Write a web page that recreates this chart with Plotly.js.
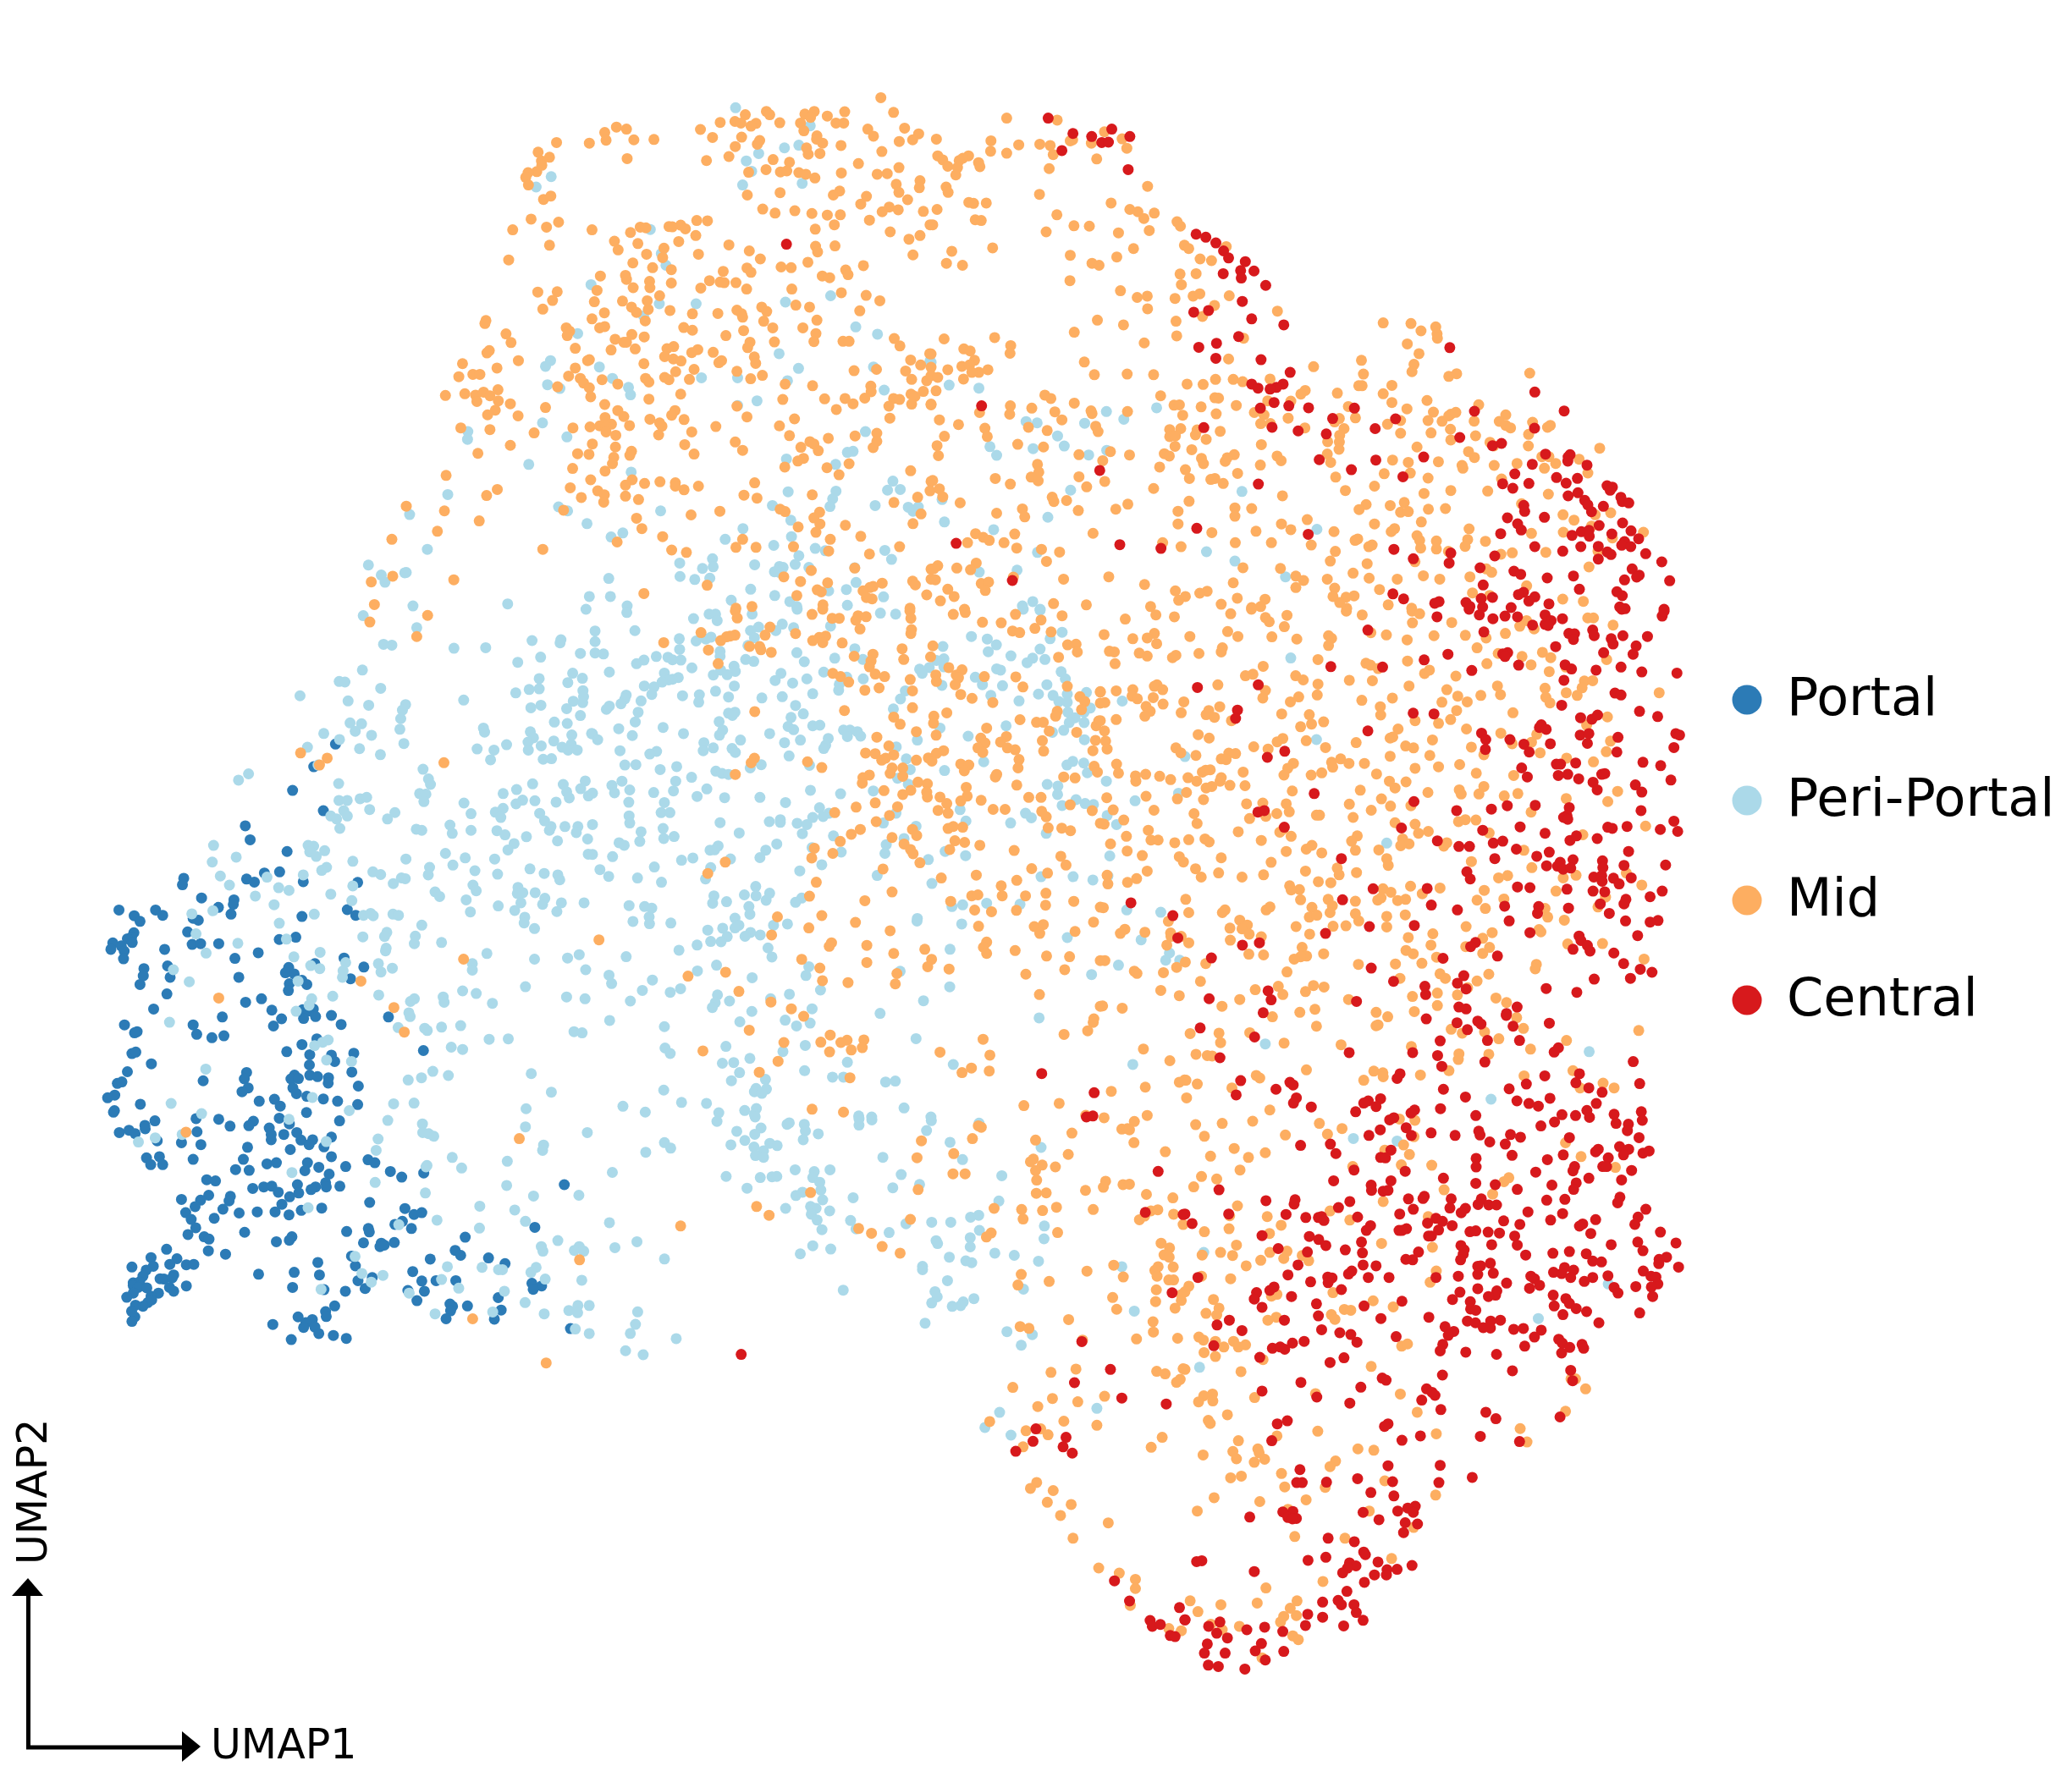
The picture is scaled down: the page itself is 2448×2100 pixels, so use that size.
<!DOCTYPE html>
<html>
<head>
<meta charset="utf-8">
<script src="https://cdn.plot.ly/plotly-3.0.1.min.js"></script>
<style>html,body{margin:0;padding:0;background:#fff}#chart{width:2448px;height:2100px}</style>
</head>
<body>
<div id="chart"></div>
<script>
// Readings are x,y pairs in the coordinates of the crop they were read from.
const portalA=[737,18,496,58,511,95,625,126,555,183,602,180,500,199,524,207,306,197,302,214,675,206,843,208,361,249,461,254,459,266,413,274,452,292,106,281,219,281,241,295,153,296,171,311,335,303,351,308,671,298,811,280,837,295,318,339,152,341,145,353,132,357,87,368,147,367,332,372,358,370,414,370,601,359,652,353,113,376,81,385,122,390,120,410,247,385,536,394,464,409,801,408,711,423,862,432,183,436,181,455,256,429,264,459,476,459,630,433,620,447,647,450,671,467,686,478,632,476,629,494,821,463,171,478,254,503,497,525,546,516,213,543,578,546,673,545,692,548,706,543,676,568,713,563,762,560,608,569,425,564,938,564,123,585,335,585,583,588,792,584,162,603,154,606,346,610,393,619,430,614,717,622,1046,653,624,656,671,637,695,664,762,665,772,682,831,660,146,661,158,657,206,688,694,691,132,709,825,710,500,711,493,728,366,733,648,718,637,728,660,727,695,718,719,722,753,725,752,739,101,740,115,736,845,747,505,752,486,762,643,752,654,767,93,771,71,778,686,774,737,781,781,787,539,787,586,782,604,800,172,795,843,796,89,816,92,812,685,817,601,832,414,835,217,839,344,833,521,840,507,852,449,853,787,839,632,847,186,851,187,860,570,858,137,864,107,870,156,873,347,868,576,875,655,870,615,875,762,882,704,889,668,890,576,889,224,892,299,897,693,902,739,908,359,902,503,909,635,915,191,937,231,934,335,941,490,941,762,934,875,942,896,950,688,950,204,955,241,955,563,953,592,950,944,973,979,988,1047,977,466,968,508,970,680,971,723,962,806,960,755,980,377,995,404,998,657,1008,744,1003,746,1014,788,1012,519,1018,553,1014,578,1012,598,1028,713,1014,699,1021,661,1030,633,1040,1481,1008,450,1039,446,1051,383,1036,358,1049,299,1047,341,1066,880,1055,609,1060,427,1073,588,1080,631,1088,669,1076,732,1070,533,1080,477,1083,989,1071,1017,1087,1041,1082,312,1082,329,1100,400,1097,981,1105,958,1113,1009,1124,343,1122,494,1134,319,1140,809,1132,876,1124,879,1133,369,1146,384,1152,640,1146,632,1155,592,1159,861,1162,916,1163,912,1172,925,1168,956,1161,1175,1147,1390,1121,382,1183,253,1179,435,1192,1144,1182,1161,1195,824,1197,1247,1202,1067,1205,205,1201,285,1204,263,1219,314,1220,337,1219,212,1224,146,1226,720,1214,836,1223,1298,1217,190,1234,180,1250,275,1247,537,1245,647,1240,725,1247,1013,1238,233,1257,245,1258,270,1255,170,1265,150,1268,1041,1263,1085,1262,1146,1262,844,1262,888,1254,314,1276,262,1280,275,1290,150,1275,165,1280,192,1281,642,1280,739,1286,866,1283,805,1290,1381,1269,1411,1276,1385,1285,998,1288,1049,1290,228,1295,150,1295,205,1303,130,1306,195,1320,207,1313,180,1330,157,1327,1277,1307,1026,1315,772,1329,1128,1324,1136,1330,1182,1329,145,1343,1130,1342,1286,1340,744,1344,155,1358,746,1357,659,1358,1116,1363,1265,1364,146,1370,703,1365,581,1378,683,1373,676,1386,711,1385,723,1402,768,1407,808,1415,638,1418,1500,1389];
const portalF=[581,1359,505,1438,431,1521];

const periA=[760,32,778,40,800,18,811,32,788,65,880,15,958,23,935,40,1193,26,1128,56,1135,78,1193,70,1024,67,1041,70,1268,22,1292,12,1285,36,1405,25,1420,45,1440,60,1435,70,1483,60,1523,60,1518,76,1273,71,1298,82,1364,87,1326,105,1307,122,1460,98,1553,93,1555,133,398,110,468,141,394,154,690,110,707,112,695,127,715,139,741,124,828,152,992,146,1114,131,1175,143,1266,146,1137,162,1065,168,747,168,732,176,890,180,914,187,1061,188,1205,177,1275,186,1375,172,1419,184,1461,188,1467,201,419,191,563,194,675,188,447,215,599,222,631,229,828,217,978,196,990,198,953,211,1199,215,1209,230,1338,221,1336,237,1353,235,1391,235,527,244,760,239,825,256,1082,233,1096,245,1178,254,1421,250,1414,266,1347,262,1472,262,1542,262,585,267,1277,270,396,283,331,291,709,292,861,295,883,290,891,296,952,292,969,295,1191,286,1328,282,1458,285,1359,300,1357,315,601,316,1041,321,1389,330,344,344,933,340,926,351,859,352,1021,350,1018,370,623,358,1102,367,473,369,375,395,931,382,929,389,727,393,1242,396,646,405,1389,411,1491,408,1527,399,806,420,698,428,726,436,907,423,1197,423,1197,440,950,435,1547,439,274,439,915,445,798,442,796,459,323,471,659,469,1361,484,1167,495,1209,502,908,506,1107,511,1110,525,1259,528,1488,511,1545,516,766,509,701,516,693,533,1018,516,1006,523,653,549,1001,553,1005,563,262,578,968,592,1050,594,1058,600,1102,591,1161,587,1511,603,1536,606,752,625,735,631,710,640,1249,623,1308,622,1132,644,1167,650,747,678,824,682,374,702,1075,708,1123,719,1040,725,999,731,1379,714,1441,763,703,777,267,793,954,794,1017,792,361,820,817,812,1363,807,631,835,936,838,1043,847,1044,870,1062,873,1078,880,1361,855,301,875,218,884,166,895,746,894,1552,870,906,887,1417,903,1414,917,900,917,1135,936,1305,946,1057,957,1054,961,1164,964,640,976,897,1002,1303,1010,1052,1030,1526,1036,1386,1038,690,1069,1220,1065,1328,1075,1088,1102,1361,1105,970,1114,1219,1123,1461,1156,1410,1172,1415,1184,1527,1172,1512,1182,1541,1184,921,1248,835,1198,1120,1225,1227,1227,1394,1227,1378,1240,1290,1233,1278,1233,856,1243,885,1266,1422,1258,1535,1261,1102,1259,1155,1282,1296,1290,1002,1295,730,1285,1360,1320,1523,1328,1558,1328,1495,1341,1522,1347,1082,1350,1260,1345,1419,1350,1515,1390,1558,1402];
const periB=[248,66,1248,84,945,194,520,285,655,291,58,549,1307,622,1091,702,45,815];
const periC=[984,69,1207,123,1173,181,1130,189,1053,206,1016,228,1032,259,1005,300,1183,295,433,275,388,306,729,433,762,505,776,540,552,598,1268,631,1133,650,756,655,866,655,709,691,1343,724,1408,746,512,744,1114,804,431,825,416,842,577,844,1172,848,1396,844,1565,826,616,878,882,876,990,876,1139,885,422,897,459,908,664,905,670,927,1428,913,990,959,1048,945,407,1011,184,1037,183,1060,480,1053,1372,1037,1318,1099,1335,1096,366,1135,1136,1119,1283,1135,672,1158,1454,1185,1438,1212,1476,1210,1141,1217,1284,1215,1274,1238,1266,1261,1401,1258,124,1225,455,1262,482,1274,1094,1258,1500,1263,1530,1262,1514,1275,10,1285,760,1274,540,1312,1149,1302,647,1340,612,1352,1006,1327,1151,1351,953,1359,1098,1377,1222,1386,1252,1393,63,1389,1430,1392,1450,1419,915,1417,817,1430,1173,1408,885,1446,917,1441,1041,1435,1162,1434,1203,1443,1340,1444,1115,1440,1126,1443,1100,1456,1115,1458,818,1470,862,1479,907,1475,0,1458,605,1476,1344,1488,1029,1508,547,1530,610,1530,1262,1513,1315,1509,1101,1527,1426,1531,20,1558,303,1552,660,1558,971,1541,1146,1545,1167,1560,1318,1556,537,1568];
const periD=[0,830,54,898,143,907,524,977,576,1000,674,966,284,1007,317,1011,459,1012,378,1050,176,1082,196,1108,305,1088,398,1080,525,1093,471,1107,417,1212,929,1216,33,1240,40,1307,349,1293,187,1330,1153,1329,318,1398,823,1396,908,1424,144,1457,257,1451,1059,1471,304,1545,273,1558,326,1568];
const periF=[696,733,741,768,754,793,823,760,678,910,675,1100,594,1140,614,1142,739,1164,457,1190,625,1208,697,1223,826,1221,815,1240,632,1285,672,1288,650,1314,809,1270,806,1307,540,1322,707,1328,595,1343,483,1370,665,1375,820,1357,738,1396,520,1432,277,1463,242,1485,592,1497,593,1556,622,1556,667,1550,690,1545,865,952,749,1010,778,1013,995,1024,1106,1022,1268,997,1369,994,1366,1005,1437,1042,1298,1055,1218,1073,1410,1111,1293,1130,1444,1129,1393,1144,1258,1168,1293,1166,1211,1180,1446,1172,1448,1193,1029,1205,1412,1209,1445,1214,1264,1232,1299,1223,1389,1235,1437,1259,1346,1282,1391,1287,1098,1303,1102,1317,1262,1316,1273,1337,1407,1327,1254,1352,1344,1348,1476,1322,1300,1365,1373,1370,1405,1360,1179,1361,1076,1376,1135,1380,1255,1380,1394,1380,1426,1380,1123,1414,1307,1412,1336,1410,887,1447,906,1481,913,1500,875,1532,897,1534,1270,1498,1214,1518,1167,1532,1377,1500,1389,1526,1398,1547,1454,1488,1438,1515,1465,1540,1235,1555,1278,1557,1352,1562,1030,1565,890,1560,1212,1568];
const periG=[106,10,312,29,360,15,380,15,385,35,493,15,632,0,889,12,936,15,1330,0,1382,3,8,67,131,66,513,55,488,66,586,46,566,66,621,57,735,52,8,100,268,91,320,98,350,92,366,86,500,88,1170,84,1219,92,1413,91,1450,71,480,112,1247,110,269,124,8,135,34,138,394,130,631,134,810,122,1082,115,1222,131,1382,123,394,145,197,146,233,148,247,156,273,157,159,157,136,168,473,155,498,161,654,162,748,151,835,155,1085,153,1062,158,1292,144,1359,151,1397,155,1342,165,307,181,52,194,437,176,441,192,396,188,373,203,416,202,1085,178,1040,180,1010,185,1018,198,1248,184,1260,188,1447,193,222,197,265,211,247,216,235,218,215,225,582,198,564,220,714,194,836,215,785,210,662,215,1460,215,618,228,190,240,160,237,438,237,762,232,1182,210,1204,233,1079,235,1266,236,1403,233,760,250,183,263,380,253,966,252,104,265,278,267,330,264,420,271,523,274,586,270,680,261,1377,262,1230,266,1525,257,1422,266,1466,262,100,277,88,292,150,283,328,287,951,277,1317,283,1440,285,1466,287,627,297,52,299,43,309,929,308,1537,305,141,318,420,321,440,318,432,328,651,323,613,334,1468,318,1518,318,1490,335,132,348,391,347,1472,350,1518,350,680,360,702,358,218,365,81,369,281,384,402,373,392,389,547,384,604,362,621,372,775,373,795,373,818,378,787,393,828,392,1277,360,1073,367,1455,374,1420,380,728,399,123,390,0,385,16,403,457,404,593,412,642,404,720,420,714,430,1003,404,1160,392,1519,403,344,412,85,437,342,437,373,428,431,430,441,442,938,425,198,439,177,447,607,453,969,462,1465,481,1483,470,1517,475,100,481,134,480,260,486,209,495,487,490,521,480,670,482,1208,471,1087,498,981,495,1528,505,381,500,400,507,420,510,306,519,257,531,942,522,91,531,60,544,975,540,1404,541,1437,546,115,558,68,567,0,568,189,566,250,561,353,555,867,561,1436,572,323,578,408,582,517,581,673,559,766,570,112,596,222,597,596,597,1493,588,1450,606,1521,600,1547,603,701,613,212,628,239,628,113,638,115,660,730,630,712,640,680,643,1135,619,937,630,1337,630,1355,644,394,659,546,656,580,650,580,658,632,661,662,665,898,660,1153,654,1291,660,0,665,999,670,218,677,150,687,648,693,453,691,1401,692,220,708,252,702,744,700,82,721,98,729,146,717,569,725,962,708,907,727,388,731,363,744,377,743,535,744,678,736,768,750,903,754,62,764,0,757,310,768,275,775,426,771,517,767,1089,748,1152,761,1037,773,191,796,708,789,23,804,365,798,640,808,50,825,349,833,139,830,213,843,879,822,1385,826,1484,826,1545,836,1048,847,504,856,469,882,505,885,547,877,375,885,371,908,414,903,536,899,646,892,627,905,113,915,161,918,183,923,483,918,1110,918,1143,913,1217,908,1320,911,175,950,486,942,440,954,1003,955,1002,963,125,964,176,971,242,969,559,976,602,972,452,976,440,984,1140,972,402,985,356,991,518,1006,488,998,471,1010,416,1011,397,1027,365,1026,323,1037,1466,1014,267,1053,542,1046,1104,1050,104,1073,554,1074,383,1099,668,1104,950,1118,324,1117,51,1130,659,1131,493,1138,59,1156,185,1145,1541,1128,1103,1166,154,1177,272,1172,240,1183,704,1176,386,1191,608,1189,550,1203,117,1210,379,1215,423,1210,1022,1209,370,1230,678,1234,492,1242,888,1248,53,1270,1379,1262,455,1274,595,1269,672,1278,630,1287,222,1289,999,1326,657,1347,224,1355,412,1350,240,1372,588,1366,486,1387,401,1402,436,1400,787,1399,1114,1406,655,1425,454,1431,534,1452,741,1445,775,1445,429,1456,905,1460,935,1457,505,1480,537,1482,220,1485,500,1490,523,1495,275,1523,352,1526,94,1535,506,1542,163,1553,470,1548,962,1540,390,1555,500,1560,822,1565,862,1568,1045,1568];
const periH=[504,129,58,243,572,345,224,390,16,455,207,487,92,507,18,546,43,570,25,653,20,706,758,619,70,796,160,802,108,875,183,910,173,929,210,929,48,942,86,1205];
const periJ=[293,12,397,0,680,5,715,8,877,10,1007,17,484,20,490,16,531,20,680,22,347,39,413,30,534,38,396,47,569,46,864,37,528,62,150,70,167,85,99,96,331,76,369,64,437,72,457,78,394,82,420,92,398,105,420,110,928,69,1176,83,745,110,962,116,8,151,506,144,558,149,601,144,318,162,411,165,443,163,456,162,554,165,573,178,795,157,1069,160,375,194,576,199,526,205,508,214,845,184,772,193,664,220,581,226,1061,229,480,249,548,244,563,249,550,265,600,256,566,281,657,282,1006,268,984,273,878,287,930,287,808,291,0,288,672,305,579,307,762,315,1185,297,1008,309,983,329,890,337,894,345,983,354,75,340,15,356,1184,332,554,351,603,360,520,373,1050,371,1103,377,926,382,150,387,971,392,987,397,1169,393,853,407,853,416,921,446,637,472,887,476,893,490,878,507,1128,469,993,495,964,504,957,514,934,516,77,531,71,565,57,590,860,562,1083,585,1152,593,182,604,1122,622,44,637,92,648,1328,794,1063,805,1023,846,1094,867,1396,408,1430,529];

const midA=[414,514,853,469,955,539,987,604,1170,411,313,869,1342,886,1528,1207,1198,1363,1425,1480];
const midB=[16,42,105,41,110,63,200,40,406,25,306,64,590,24,596,22,270,3,626,3,1024,5,1045,30,822,32,856,41,925,38,969,54,1178,58,1401,35,34,90,69,93,84,94,482,68,699,72,1067,78,846,89,844,102,938,90,375,126,815,128,583,129,611,133,612,142,727,138,552,150,220,139,231,145,3,150,38,159,145,168,1047,140,1198,128,1291,157,1325,168,1220,168,5,191,262,219,33,253,115,250,209,245,415,250,662,240,710,243,485,262,60,280,310,277,440,275,707,281,1175,295,675,300,152,308,248,318,79,326,196,329,693,322,617,312,1223,327,518,350,668,346,170,358,762,347,1329,352,51,373,98,379,985,385,1000,376,27,397,800,404,950,414,612,431,162,441,448,453,138,464,254,466,751,466,509,474,297,486,136,494,60,501,261,505,607,528,159,532,764,537,110,549,262,549,147,556,315,546,53,555,234,567,305,563,362,556,382,568,189,580,776,592,51,604,141,610,757,618,12,627,0,640,457,642,267,650,284,646,88,658,581,661,105,678,65,690,98,694,643,675,492,681,512,683,452,693,282,699,256,706,463,704,43,745,57,752,94,755,150,755,120,768,165,768,187,763,669,766,687,761,59,781,94,790,241,797,575,813,173,825,0,820,1206,842,1192,842,1237,865,85,877,58,881,42,895,86,893,215,885,403,876,665,877,131,925,717,919,1175,917,72,938,78,945,410,963,284,974,776,969,1035,957,165,985,534,1004,583,1007,1056,988,148,1010,225,1004,229,1013,56,1018,159,1027,246,1028,214,1035,465,1032,448,1045,298,1061,141,1071,174,1067,308,1092,433,1093,617,1078,774,1111,90,1117,231,1126,374,1122,38,1148,318,1144,569,1148,706,1186,339,1207,494,1211,638,1258,426,1311,250,1326,16,1356,111,1365,223,1361,346,1356,325,1373,40,1381,305,1392,344,1390,295,1405,168,1415,80,1410,115,1423,333,1437,350,1446,238,1488];
const midC=[1418,39,1076,80,1086,90,1013,90,1191,88,1219,80,1208,98,1258,94,1310,81,1456,83,938,113,982,110,1000,115,1045,116,1030,124,1116,114,1178,115,1284,115,1307,115,1379,133,1489,130,1531,147,879,134,915,158,1002,157,1188,138,1227,153,1396,154,1473,170,1513,165,1056,167,1049,178,1226,163,1244,175,983,185,1299,182,1196,189,1201,208,1236,206,1421,200,964,215,897,227,1096,224,1145,232,1351,236,1472,248,1023,262,1075,254,1118,261,1137,258,1173,263,1194,268,1221,279,1300,264,1407,268,1437,266,1535,287,1533,308,1464,298,1019,330,1117,323,1295,318,1276,330,1472,322,1375,334,1498,344,1358,357,1065,372,1102,384,1161,377,1212,385,1258,390,1297,389,1443,366,1422,380,1470,374,1545,379,1384,405,1279,419,1565,419,1222,432,1446,440,1535,451,1502,462,1223,483,1281,482,1229,500,1514,509,1200,531,1366,541,1120,545,1150,547,1313,554,1320,568,1243,572,1265,577,1152,611,1300,622,1374,630,1415,646,1164,659,1205,665,1355,676,1227,704,1185,727,1224,744,1218,768,1305,767,1323,767,1458,759,1475,781,1564,804,1507,823,1537,838,1568,845,1338,855,1405,851,1492,856,1510,881,1555,885,1214,900,1388,901,1389,918,1508,925,1545,917,1520,932,1370,937,1311,938,1250,939,1456,938,1474,941,1335,954,1510,955,1442,961,1568,957,1285,971,1445,997,1160,999,1125,941,1132,895,1115,1020,1145,1049,1206,1067,1218,1074,1179,1084,1231,1094,1261,1057,1341,1050,1406,1042,1406,1066,1395,1085,1323,1133,1187,1117,1170,1125,1131,1143,1257,1145,1293,1166,1507,1154,1568,1186,1213,1226,1528,1233,1565,1214,1457,1249,1538,1283,1514,1312,1235,1278,1218,1295,1236,1313,1312,1317,1224,1338,1171,1322,1267,1359,1358,1350,1157,1381,1262,1394,1474,1381,1384,1403,1210,1452,1568,1448,1340,1445,1128,1471,1178,1485,1259,1489,1422,1490,1513,1484,1521,1495,1395,1500,1385,1503,1365,1513,1228,1510,1240,1516,1568,1478,1375,1533,1392,1537,1167,1527,1555,1525,1245,1555,1033,1560,985,1565,1505,1565,449,173,394,202,428,217,404,228,405,241,390,260,364,263,357,277,365,300,410,343,432,333,547,175,593,143,628,127,658,133,597,166,680,165,740,164,660,221,373,402,419,426,455,411,318,434,555,434,428,480,306,524,622,468,633,494,670,442,692,475,699,426,716,428,785,424,795,425,820,420,834,431,868,406,900,407,865,451,814,469,770,489,718,507,766,517,873,507,964,479,1025,497,1058,521,677,533,736,547,792,553,1018,548,1030,561,947,558,655,570,658,582,580,572,906,586,938,590,950,592,985,592,727,588,728,607,792,593,678,607,880,608,1017,611,570,615,393,620,451,619,437,645,757,631,646,647,720,646,562,649,408,671,673,665,688,681,723,672,788,675,855,685,931,684,988,674,1002,685,1005,695,1062,665,1077,678,592,682,555,700,714,706,1068,707,238,705,235,714,478,727,578,727,593,723,829,726,855,734,1095,727,1008,735,298,745,488,737,481,750,674,747,711,754,955,750,624,761,650,770,658,770,313,771,1100,769,1027,770,1020,786,684,790,505,788,612,793,248,795,241,802,779,789,799,783,871,792,853,801,917,800,772,813,798,820,821,826,168,834,335,825,547,822,542,825,710,834,1040,814,1044,833,942,825,934,831,271,847,505,847,199,866,220,866,157,873,805,858,860,851,988,857,485,871,520,878,715,878,772,875,785,882,725,889,846,881,1029,879,1064,869,585,882,530,892,632,895,547,906,452,903,117,929,175,924,207,928,231,919,250,930,274,912,820,925,551,933,725,940,211,947,275,945,311,954,593,956,988,961,416,965,266,973,632,974,803,974,243,987,334,990,793,988,650,992,1018,993,594,995,728,1000,830,1001,667,1019,764,1021,757,1011,163,1026,250,1031,498,1026,549,1023,578,1020,613,1015,597,1022,925,1022,853,1038,382,1041,597,1038,626,1048,754,1047,983,1068,311,1078,556,1074,832,1076,1005,1093,625,1083,214,1102,512,1103,546,1105,673,1096,668,1108,860,1104,620,1114,616,1133,497,1147,594,1155,119,1168,551,1181,675,1181,655,1197,712,1192,758,1187,804,1190,804,1200,830,1211,873,1200,1041,1190,272,1210,490,1205,240,1228,572,1214,592,1226,523,1234,655,1230,694,1240,590,1248,1009,1227,1048,1236,0,1260,114,1274,470,1272,1117,1269,1132,1276,851,1286,937,1275,218,1304,688,1296,704,1327,93,1335,766,1351,630,1367,1005,1359,985,1383,1045,1383,793,1391,837,1398,408,1389,142,1480,899,1496,710,1521];
const midD=[226,100,377,106,16,163,518,141,179,168,262,180,325,178,356,182,423,165,416,168,479,175,571,162,585,190,178,199,226,205,365,209,495,222,20,213,35,225,112,213,95,220,84,227,50,244,142,233,146,245,79,248,74,270,353,251,45,306,51,322,647,304,324,328,113,352,127,355,165,354,538,354,18,373,594,373,618,380,667,384,376,389,636,400,132,404,150,406,5,419,427,422,473,423,735,410,745,423,344,440,560,443,652,436,757,480,770,490,882,484,184,488,62,498,605,490,555,515,416,510,481,534,502,540,46,534,94,540,804,521,838,526,744,566,792,565,415,586,748,598,566,616,616,636,646,632,729,639,783,632,803,625,891,631,847,660,647,670,1035,677,811,693,497,704,732,707,575,718,1351,712,1434,714,1464,736,1508,724,1512,745,1513,758,428,740,734,751,39,760,190,756,934,758,238,780,637,772,1423,775,98,790,117,796,236,803,1458,804,0,805,889,820,1286,824,458,829,130,824,1443,836,50,852,92,842,115,838,170,852,143,860,122,860,1143,843,1437,858,1292,865,488,867,586,865,665,867,1547,872,97,880,0,870,20,875,850,881,903,881,931,888,1013,880,765,895,813,896,1118,914,1278,900,1288,900,1377,899,1105,925,15,915,340,928,358,938,1214,922,1351,924,686,930,848,936,859,937,0,955,428,952,1006,945,1075,946,1377,950,1482,944,726,958,742,957,301,967,237,960,807,963,912,959,1422,969,145,980,235,985,370,978,478,975,481,983,587,977,852,984,966,980,995,987,1247,962,752,988,1501,979,25,1002,391,1002,1067,997,1220,998,1268,996,1206,1008,1485,1004,1527,1006,1553,985,1547,990,82,1016,161,1027,291,1024,492,1021,1014,1013,985,1013,1364,1015,1403,1004,1117,1026,1234,1028,713,1031,746,1028,347,1034,795,1032,864,1036,499,1037,1552,1030,40,1051,168,1052,790,1047,1403,1042,1494,1041,713,1052,730,1050,1221,1048,822,1060,1553,1062,1220,1068,259,1075,18,1079,336,1083,729,1081,987,1076,1185,1067,1452,1083,779,1091,536,1097,1219,1090,697,1103,593,1107,442,1106,22,1109,712,1110,906,1106,1034,1110,1184,1104,885,1115,808,1117,879,1126,513,1124,1046,1124,1194,1129,1379,1122,1426,1129,1516,1127,814,1133,984,1137,318,1135,683,1143,760,1151,1432,1161,1354,1163,322,1158,916,1162,5,1183,772,1177,442,1172,299,1173,192,1177,848,1177,836,1180,1485,1176,873,1192,320,1184,237,1194,519,1186,1325,1200,465,1202,25,1208,665,1207,1209,1173,1238,1213,1553,1213,1473,1222,362,1233,1050,1229,367,1246,405,1243,87,1250,35,1232,771,1245,1300,1255,1414,1249,588,1254,1372,1258,908,1265,273,1268,958,1267,552,1269,440,1273,738,1275,1279,1270,1486,1269,1537,1267,1403,1278,1426,1276,196,1281,280,1292,908,1290,1124,1300,1047,1313,738,1313,1465,1307,1325,1313,1075,1330,1385,1327,971,1335,1375,1336,1204,1336,133,1342,250,1343,839,1339,484,1341,156,1353,174,1362,1452,1348,1275,1358,1267,1362,109,1369,218,1369,909,1369,1017,1369,692,1369,1510,1364,1460,1362,256,1385,1136,1376,1318,1376,1308,1381,330,1389,747,1381,1463,1385,1510,1388,384,1397,1208,1395,1546,1395,345,1425,1193,1424,1446,1426,20,1438,135,1430,1303,1432,932,1444,77,1445,118,1450,8,1447,1044,1446,1261,1460,396,1478,531,1471,1471,1468,246,1472,13,1480,1090,1469,1113,1482,1184,1478,1309,1475,1393,1478,1520,1478,638,1494,903,1489,150,1491,172,1487,1090,1503,1206,1505,50,1508,1340,1509,162,1512,730,1513,825,1514,803,1520,69,1530,760,1530,915,1535,998,1538,1264,1528,1240,1532,1201,1530,740,1541,28,1543,366,1551,464,1555,867,1553,1221,1548,656,1560,958,1563,985,1560,1242,1565,1366,1555,1436,1565,100,1568];
const midE=[3,185,262,183,81,295,0,322,177,331,65,353,154,354,272,357,177,368,194,377,325,375,335,368,70,405,258,400,121,428,135,441,257,441,510,449,45,461,66,482,305,479,330,479,437,488,354,503,22,510,25,520,136,510,217,503,314,520,468,537,162,558,113,601,328,612,233,646,380,685,494,685,549,678,419,704,47,735,481,725,268,751,381,747,665,747,42,773,555,767,105,779,33,797,160,825,200,820,319,818,504,814,472,870,108,877,127,889,50,905,251,937,59,962,120,971,379,984,452,992];
const midF=[778,643,781,772,706,792,717,871,701,932,459,1390,552,1408,525,1432,903,909,865,983,960,1424];
const midG=[441,5,447,27,678,16,711,0,980,5,983,28,1114,16,1151,10,1306,16,1450,20,1385,33,820,20,845,23,813,34,740,28,762,28,826,61,1204,40,1262,42,548,55,985,63,983,75,1366,59,1297,67,1319,72,1416,70,335,72,627,75,533,80,440,80,425,83,414,85,396,97,720,83,700,87,680,97,711,103,220,103,771,104,1467,110,1493,108,1051,113,516,115,520,125,485,115,358,126,956,122,552,133,1497,132,866,139,808,145,1044,147,1439,148,961,155,860,160,855,178,388,168,1100,180,1141,187,742,198,1060,203,1123,203,873,200,902,208,766,208,1130,212,1210,208,1307,209,981,217,791,225,1062,223,1120,233,1329,240,885,243,841,250,988,252,1466,238,1568,256,1137,263,1172,275,1505,270,1520,285,1236,288,988,304,501,316,778,313,1094,320,1510,310,1568,290,1435,315,1430,330,1054,330,930,333,1053,352,950,355,1320,341,1371,349,1392,349,1410,376,1217,367,1000,378,1061,389,878,395,1495,380,1563,345,1555,360,1278,393,1199,398,1389,406,1553,405,1260,410,1212,413,915,422,1190,428,1281,428,1305,434,1393,438,1205,442,1545,437,843,444,873,446,930,450,1084,437,1062,445,905,460,893,466,1037,459,1000,466,1048,469,1317,464,664,471,500,460,490,474,708,489,1137,478,1162,481,1148,499,1314,490,925,490,958,490,1549,485,1559,503,441,510,919,507,855,512,958,516,835,520,1248,510,1244,518,1455,518,1490,521,833,537,1005,534,1034,539,1310,543,1154,550,900,560,958,572,983,559,1032,565,1034,580,1073,580,1157,577,1137,592,1347,581,1385,581,1200,590,1094,600,873,598,942,610,814,611,1475,604,1237,618,1274,618,1067,621,1098,630,1387,624,1401,641,1543,622,748,628,917,637,876,656,1568,661,1143,673,1098,677,1114,671,1407,675,1449,676,1476,684,988,680,827,680,799,695,1001,699,925,705,765,717,1119,715,1149,720,1196,729,962,725,982,742,685,738,1103,742,742,754,990,755,1302,745,677,768,1446,763,410,781,1011,783,1462,790,897,802,1356,801,1405,815,356,816,1185,821,1077,830,691,843,1310,837,925,873,1262,854,1171,885,1190,882,670,886,1265,885,1337,885,1400,877,1106,902,841,900,1486,902,1399,914,1309,930,1180,929,1232,934,1568,920,708,946,571,950,812,967,1547,966,668,984,919,993,1192,979,1364,980,1392,974,1381,1001,1490,995,553,1006,20,1021,738,1030,731,1041,847,1038,1217,1028,1026,1050,1207,1044,1305,1054,930,1063,1217,1063,1402,1071,1473,1073,646,1081,1047,1081,847,1091,1568,1085,702,1108,1035,1104,1101,1111,1458,1113,411,1121,295,1133,940,1125,1338,1127,710,1147,789,1153,935,1157,452,1180,1380,1190,551,1213,614,1234,652,1257,1568,1226,1548,1265,1546,1276,484,1300,1529,1302,1456,1313,734,1315,838,1330,786,1331,767,1338,705,1337,591,1338,1206,1328,833,1354,799,1361,341,1364,732,1367,1073,1368,1227,1377,573,1396,1170,1417,1225,1426,515,1430,1141,1431,795,1447,1332,1533,1441,1526,678,1544,775,1553,1523,1563];
const midH=[114,1164,184,1195,119,1265,29,1276,209,1252,223,1246,124,1340,10,1346,90,1356,57,1376,72,1375,77,1378,89,1412,172,1436,14,1514,60,1523,77,1522,122,1549,192,1558,8,1530,66,26,147,15,196,20,345,12,400,0,437,22,447,33,494,16,651,5,693,15,825,5,845,12,930,35,1128,30,1148,52,1110,45,1290,23,1305,23,1357,42,487,46,826,36,10,67,143,64,237,72,337,59,364,72,454,73,520,79,604,70,612,77,716,62,757,68,883,70,966,69,1072,64,1021,76,86,78,124,76,149,91,812,81,604,96,997,102,323,102,320,113,24,111,37,113,103,116,124,124,191,128,200,122,261,117,1053,117,1116,125,1170,114,1192,128,39,144,431,151,576,133,703,143,715,148,735,157,813,137,1023,144,1140,147,1232,153,1188,165,858,170,871,161,384,176,404,172,517,176,537,187,659,188,720,189,941,177,1340,133,1281,190,1303,189,150,200,143,204,311,200,576,198,817,203,1051,203,1275,208,1177,209,165,213,86,213,42,216,0,218,437,215,574,227,917,213,1059,226,1233,221,1262,228,1479,221,84,230,140,234,98,237,12,247,221,245,430,235,525,232,503,245,692,241,773,235,946,230,904,246,971,245,1007,228,1179,233,1190,248,166,251,121,257,316,258,287,268,741,258,132,270,214,274,280,279,302,286,480,277,553,279,742,280,943,268,1092,274,118,283,42,292,347,295,833,295,927,292,895,302,1342,285,591,298,559,304,530,311,1287,307,0,295,788,317,969,317,11,322,259,332,288,341,1060,328,1155,331,767,341,545,348,677,353,879,346,774,338,483,342,468,351,14,349,1090,356,1141,352,1350,349,18,370,200,367,406,364,444,370,596,366,808,362,829,367,982,365,1339,377,213,380,340,381,358,382,253,387,320,396,333,398,767,389,872,387,1164,380,1015,385,636,396,43,410,511,408,612,405,658,408,699,408,615,418,1305,404,1234,394,951,411,833,421,496,421,895,417,48,434,120,437,93,441,94,455,157,442,186,451,270,431,279,426,291,425,378,431,586,433,558,439,486,439,731,436,995,434,1094,440,232,446,320,446,255,455,317,455,295,469,280,473,343,466,383,467,765,455,809,457,1015,469,1069,494,1105,488,950,478,955,489,780,473,688,479,508,481,867,485,1002,489,228,485,17,499,121,495,204,502,273,504,744,502,1233,501,1343,509,1369,482,387,515,492,515,430,513,659,516,768,521,822,520,142,532,717,532,34,531,500,536,467,541,248,541,1140,537,580,545,572,545,669,551,438,548,395,554,62,558,256,567,948,562,966,557,994,558,10,569,780,565,833,569,1443,574,127,585,365,589,475,590,484,582,1029,592,868,588,842,593,69,601,505,601,680,600,665,614,1277,597,134,611,153,611,234,610,277,608,288,616,426,612,197,618,27,621,917,618,800,608,817,621,909,627,795,626,560,625,545,635,737,637,675,638,1121,638,71,640,492,641,586,645,111,652,320,658,209,655,220,669,758,660,452,670,762,678,982,668,124,693,252,687,627,685,632,703,543,693,678,697,1142,684,18,704,1259,704,313,698,432,703,267,709,375,709,96,713,72,723,20,727,1054,711,1078,705,1225,711,1392,698,1433,730,577,721,610,724,501,732,527,742,505,743,821,733,899,738,748,740,769,749,852,753,1016,744,1206,746,226,768,530,769,603,768,734,770,675,773,743,764,787,771,808,768,997,770,1068,767,1337,762,8,790,234,803,330,796,323,803,439,796,449,788,560,789,614,785,608,803,1019,792,1317,788,1177,792,553,815,675,806,573,810,758,813,807,809,369,823,180,826,389,836,343,844,375,846,684,825,1184,815,1228,823,518,840,616,839,650,838,758,841,968,840,65,847,53,858,118,855,186,857,187,866,394,860,426,867,554,860,1161,848,1166,854,214,866,880,859,1037,856,234,883,344,876,815,869,1012,871,176,889,534,895,875,889,967,893,1030,895,1237,886,1329,885,393,913,432,915,591,912,546,918,530,920,513,926,809,903,828,912,1012,911,890,921,12,930,225,934,279,938,851,937,1439,926,683,940,781,939,202,948,1154,940,1151,952,90,958,97,964,167,962,494,960,899,965,1028,966,913,977,793,977,265,985,997,984,471,998,564,996,592,1000,410,1007,543,1012,160,1009,892,1016,483,1020,945,1021,972,1002,209,1023,826,1025,369,1033,657,1033,1047,1029,322,1051,1075,1041,58,1056,6,1050,892,1049,568,1059,528,1067,730,1067,831,1065];
const midJ=[1005,24,1013,28,850,65,989,59,1161,63,1260,44,1250,102,838,111,938,100,1155,115,1147,122,1179,131,1215,136,1161,146,936,155,969,155,1164,172,548,206,841,198,1297,200,1163,208,1190,207,401,244,435,268,194,297,1048,249,1123,252,1180,255,1218,246,1318,252,1127,278,820,279,679,304,714,317,1221,315,1040,316,1027,327,743,353,792,371,1122,429,1113,458,1198,448,1301,420,1374,404,1400,436,1371,492,1382,524,1251,552,1119,571,1143,576,1289,608,1436,605,1271,687,1203,696,1099,737,1207,767,1276,776,1349,761,1167,789,1238,829,1036,830,1328,840,1135,855,1175,850,1195,866,1127,899,1164,996,1147,1012,1209,1018,1193,1050,1258,1056,1229,1086,1359,1106,1263,1148,1333,1229,1389,1243,1433,1260,1433,1285,1419,1331,1524,1394,1558,1400,1506,873,1476,900,1491,693,1514,700,1563,686,1555,715,1545,723,1548,603,1481,558,1482,586,1541,521,1488,503,1558,500,1490,471,1558,484,1503,344,1526,357,1511,376,1525,382,1495,408,1536,409,1486,418,1492,434,1524,444,1537,444,1444,280,1458,270,1475,256,1494,253,1537,265,1563,293];

const centralB=[47,29,215,50,745,8,840,17,872,33,904,13,914,20,992,0,1013,25,1125,18,788,59,934,58,1033,58,1153,75,1140,85,108,98,507,86,703,86,780,93,793,118,926,108,1384,107,172,151,664,135,655,146,1218,135,1111,140,1207,156,1404,158,1054,159,324,155,334,161,281,171,158,184,798,171,1001,170,1247,168,1288,178,866,189,1127,192,1025,198,344,191,335,203,604,193,566,198,552,203,590,211,1062,204,1091,210,1270,204,390,212,789,216,527,223,709,219,698,226,1241,220,1409,223,898,232,1164,230,1206,232,1249,236,1325,229,1412,243,632,242,645,237,1141,247,1331,250,1099,256,1369,252,1366,267,683,260,603,265,568,278,760,272,907,268,911,277,834,278,1005,276,1036,282,1187,283,1402,283,699,278,941,293,989,298,449,298,357,301,1342,304,466,320,1276,310,1268,316,1010,324,636,312,1168,323,1370,310,1354,323,1414,319,1433,314,1307,330,604,329,619,330,899,331,1119,334,899,351,1203,350,1198,360,1290,350,1302,350,680,361,522,358,1083,363,1379,359,459,383,798,377,636,383,575,393,576,405,898,389,1247,377,1348,381,1133,393,958,392,1208,388,1200,403,1026,403,105,404,612,407,627,405,822,425,739,419,735,424,690,425,915,425,340,427,337,437,250,429,509,431,1343,421,1336,434,1173,426,1117,428,818,446,866,447,853,457,905,438,938,439,962,439,474,445,705,449,1423,449,1059,455,135,460,0,460,312,461,373,468,412,468,422,466,429,475,533,467,663,460,1166,459,1399,467,1129,474,1268,473,775,470,795,477,749,481,984,476,22,482,1228,483,1218,488,1034,484,1389,484,573,487,560,498,825,487,661,498,684,494,670,498,783,497,880,501,898,499,936,502,971,504,1253,505,1468,502,238,510,384,512,413,519,545,525,761,511,752,511,1018,511,1026,532,1516,527,1316,531,1398,525,435,533,947,531,852,533,862,543,288,540,378,548,495,543,548,550,1414,545,1136,551,1187,547,1239,552,721,548,859,553,1052,555,1487,560,703,566,682,565,851,566,1464,565,1259,569,1286,571,1463,575,1524,583,349,578,550,578,590,580,943,574,904,581,913,580,515,592,505,599,1172,584,1200,590,1415,592,1138,595,1163,598,1306,603,1191,607,1439,604,1454,606,318,601,40,607,441,606,454,608,566,607,630,607,904,600,952,597,844,604,1068,604,1079,610,775,607,1259,607,1233,616,388,617,442,619,993,620,1460,622,1095,625,1064,632,1440,629,1392,628,483,635,904,633,1325,630,1337,643,221,642,262,637,275,629,214,657,329,651,849,641,963,638,959,648,937,651,1444,651,1137,648,826,658,670,662,1176,656,406,668,881,663,1187,667,238,676,553,673,1140,673,1208,679,882,680,898,683,1240,686,1404,689,412,696,1167,693,605,702,753,699,872,708,307,706,137,706,897,712,944,708,974,706,1278,712,803,721,921,723,943,724,1015,727,1045,725,99,717,176,730,422,728,1100,729,830,732,813,741,478,735,512,739,368,755,652,744,1079,745,531,757,1154,750,332,759,1165,759,796,762,89,765,270,771,294,768,308,773,1188,769,1226,762,1231,771,1049,766,788,777,867,780,962,785,1163,782,231,792,491,793,448,804,795,833,1011,823,1191,822,358,850,609,840,621,845,1197,846,543,861,238,870,746,865,763,873,772,880,407,884,731,891,509,898,790,913,929,919,960,934,1158,930,316,939,285,946,627,946,616,952,727,974,912,975,670,984,1033,987,268,985,627,1043,788,1042,355,1052,887,1070,784,1082,641,1080,345,1082,362,1082,533,1073,437,1081,574,1105,645,1113,711,1137,688,1141,705,1151,657,1148,333,1149,302,1150,550,1151,599,1168,200,1162,318,1163,344,1165,332,1166,680,1175,718,1178,675,1198,442,1211,523,1219,552,1243,557,1249,435,1255,380,1262,36,1265,52,1263,596,1266,508,1268,528,1275,701,1274,502,1280,487,1291,624,1284,655,1283,214,1288,585,1296,622,1296,554,1313,500,1334,425,1359,473,1355,483,1365,522,1365,529,1383,379,1387,425,1394,550,1401,372,1413,490,1414,246,1417,0,1400,73,1415,108,1405,191,1423,98,1431,302,1427,131,1442,236,1455,69,1456,217,1472,305,1473,60,1477,124,1477,248,1493,72,1505,103,1508,185,1514];
const centralC=[1136,477];
const centralD=[350,100,424,146,480,155,540,133,594,155,510,173,530,172,391,197,589,254,792,447,821,456,851,473,874,497,889,518,939,529,925,556,965,557,873,565,927,578,1000,600,930,648,785,680,829,675,958,700,1054,718,919,753,853,773,800,785,851,818,986,822,1550,786,1073,860,958,895,977,907,1052,895,1032,905,1013,910,1025,950,1069,960,1128,966,984,967,1265,967,151,960,1200,998,1388,999,815,1025,1019,1024,1097,1035,1327,1028,1181,1044,1160,1121,1329,1122,1472,1113,504,1153,1256,1151,1410,1172,978,1194,794,1326,1127,1344,75,1371,564,1375,687,1386,1383,1389,1441,1417,1548,1430,1553,1400,243,1482,1380,1522,1412,1537,1518,1545,1505,1550];
const centralE=[280,250,384,317,66,318,279,378,14,411,162,432,130,440,318,470,405,472,398,480,397,495,271,506,465,509,209,540,357,553,431,556,391,573,166,575,259,574,202,591,536,582,555,587,547,598,433,607,398,618,585,623,590,638,613,643,457,634,468,650,241,652,244,673,523,655,481,674,183,696,314,694,219,717,232,739,591,714,508,723,621,742,159,752,445,745,472,740,412,758,473,761,553,753,648,770,598,780,588,793,620,798,280,798,443,798,505,797,379,814,537,817,550,826,138,831,673,823,505,842,730,852,86,873,206,885,230,896,625,877,650,899,641,906,324,909,417,902,598,916,758,919,97,934,438,949,571,958,590,972,240,960,222,968,280,976,130,978,259,991,90,982,36,996,50,1010,330,1001,196,1014,95,1012,581,1012,600,1018,738,1020];
const centralG=[1387,1434,1549,1493,1525,1568,1545,1565];
const centralH=[153,1488,891,20,976,0,1003,15,1039,25,1071,18,1104,20,1144,42,1177,15,1177,40,1193,30,1185,43,1223,25,1380,0,1487,18,1492,5,708,55,1015,60,1240,64,1255,65,1303,55,1307,70,1352,78,1383,70,1448,72,1252,80,1357,92,1418,97,1205,99,1078,115,1065,118,1071,125,1332,115,1410,119,920,119,857,134,610,152,747,153,1107,148,1230,147,1247,158,1378,153,983,162,1312,161,1433,166,1526,169,1227,188,257,207,418,200,1362,222,1378,227,1221,254,363,267,358,289,828,275,883,277,1427,270,1271,287,1475,284,1301,291,1316,280,708,322,1167,306,1162,313,1180,318,1009,328,1020,345,1019,371,1523,329,1533,333,1270,333,1293,329,1084,345,1370,339,1121,357,1191,356,1289,355,1135,378,1518,366,1367,378,488,376,442,392,1436,405,1258,407,1207,410,1218,410,1115,420,1483,414,1327,437,1335,435,1130,444,1212,440,1237,437,1266,449,1510,452,1304,458,1416,465,1315,478,1433,484,566,488,830,509,1151,519,1077,520,1035,529,1241,525,943,533,1431,533,417,537,434,533,1235,546,1226,551,1237,556,1518,561,487,577,797,579,1111,576,1343,577,1355,580,1394,575,1012,585,1177,593,1482,583,1528,588,1315,607,892,613,1065,614,1040,619,1243,612,1260,600,949,628,977,628,1101,635,1398,641,1188,643,638,660,1044,660,1155,654,1329,666,1217,670,1251,663,1181,679,1210,680,1225,688,1245,685,1330,684,1386,678,1496,677,970,695,979,714,1306,709,1327,705,1358,712,1405,711,1328,720,1373,727,722,740,865,739,1104,735,1137,737,1235,741,1304,746,1335,748,1487,746,1455,761,641,769,81,777,876,783,1391,768,1386,780,1323,780,1160,787,1070,786,1239,791,945,796,1157,805,192,811,1347,805,1082,825,1390,825,1476,824,1455,828,831,837,712,840,596,858,1137,856,1422,864,1267,865,1272,877,205,870,376,889,421,883,993,882,980,893,1289,890,1296,905,1251,900,1359,910,294,923,907,924,1051,918,1385,938,717,950,1429,953,1460,961,962,970,1307,979,1403,977,776,985,945,990,968,1005,1180,1004,859,998,861,1020,444,1010,452,1034,1261,1014,288,1031,678,1038,949,1053,968,1058,1103,1053,431,1068,1075,1070];
const centralJ=[359,647,1287,612,1267,724,1365,688,1396,766,1517,782,1162,850,1154,884,1107,911,1244,873,1236,899,1261,916,1376,1264,1417,1319,1553,1337,1568,1370,1473,1372,1479,1388,1501,1383,1528,1413,1541,1416,1533,479,1460,260,1563,266];

// Each crop: left, top, horizontal scale, vertical scale.
const crops={A:[100,950,1568/600,1568/700],B:[1400,1200,1568/600,1568/800],C:[480,100,1568/620,1568/620],D:[1100,100,1568/620,1568/620],E:[1720,380,3,3],F:[200,420,1568/530,1568/530],G:[700,720,1568/600,1568/600],H:[1300,720,1568/700,1568/700],J:[720,1320,1568/680,1568/680]};

const seriesNames=['Portal','Peri-Portal','Mid','Central'];
const seriesColors=['#2c7bb6','#abd9e9','#fdae61','#d7191c'];
const seriesReadings=[
 [['A',portalA],['F',portalF]],
 [['A',periA],['B',periB],['C',periC],['D',periD],['F',periF],['G',periG],['H',periH],['J',periJ]],
 [['A',midA],['B',midB],['C',midC],['D',midD],['E',midE],['F',midF],['G',midG],['H',midH],['J',midJ]],
 [['B',centralB],['C',centralC],['D',centralD],['E',centralE],['G',centralG],['H',centralH],['J',centralJ]]
];

const traces=seriesNames.map((name,i)=>{
  const x=[],y=[];
  seriesReadings[i].forEach(([k,arr])=>{
    const c=crops[k];
    for(let j=0;j+1<arr.length;j+=2){x.push(c[0]+arr[j]/c[2]);y.push(c[1]+arr[j+1]/c[3]);}
  });
  return {type:'scatter',mode:'markers',name,x,y,hoverinfo:'skip',showlegend:false,cliponaxis:false,
    marker:{size:13,color:seriesColors[i],line:{width:0}}};
});

const legendX=2064, legendY=[827,946,1064,1182], legendTextX=2109, legendTextY=[823,942,1060,1178];
traces.push({type:'scatter',mode:'markers',x:legendY.map(()=>legendX),y:legendY,hoverinfo:'skip',showlegend:false,cliponaxis:false,
  marker:{size:35,color:seriesColors,line:{width:0}}});

const font='"DejaVu Sans", sans-serif';
const annotations=seriesNames.map((t,i)=>({x:legendTextX,y:legendTextY[i],xref:'x',yref:'y',text:t,showarrow:false,xanchor:'left',yanchor:'middle',font:{family:font,size:62,color:'#000'}}));
annotations.push({x:247,y:2061,xref:'x',yref:'y',text:'UMAP1',showarrow:false,xanchor:'left',yanchor:'middle',font:{family:font,size:49,color:'#000'}});
annotations.push({x:38,y:1851,xref:'x',yref:'y',text:'UMAP2',showarrow:false,textangle:-90,xanchor:'center',yanchor:'bottom',font:{family:font,size:49,color:'#000'}});

const blackLine={color:'#000',width:5};
const shapes=[
 {type:'line',xref:'x',yref:'y',x0:33.5,x1:33.5,y0:2067,y1:1884,line:blackLine},
 {type:'line',xref:'x',yref:'y',x0:31,x1:217,y0:2065,y1:2065,line:blackLine},
 {type:'path',xref:'x',yref:'y',path:'M14,1886 L51,1886 L33,1865 Z',fillcolor:'#000',line:{width:0}},
 {type:'path',xref:'x',yref:'y',path:'M215,2046 L215,2082 L237,2064 Z',fillcolor:'#000',line:{width:0}}
];

const hiddenAxis={visible:false,showgrid:false,zeroline:false,fixedrange:true};
Plotly.newPlot('chart',traces,{
  width:2448,height:2100,margin:{l:0,r:0,t:0,b:0},paper_bgcolor:'#fff',plot_bgcolor:'#fff',
  showlegend:false,annotations,shapes,
  xaxis:Object.assign({range:[0,2448]},hiddenAxis),
  yaxis:Object.assign({range:[2100,0]},hiddenAxis)
},{staticPlot:true,displayModeBar:false});
</script>
</body>
</html>
